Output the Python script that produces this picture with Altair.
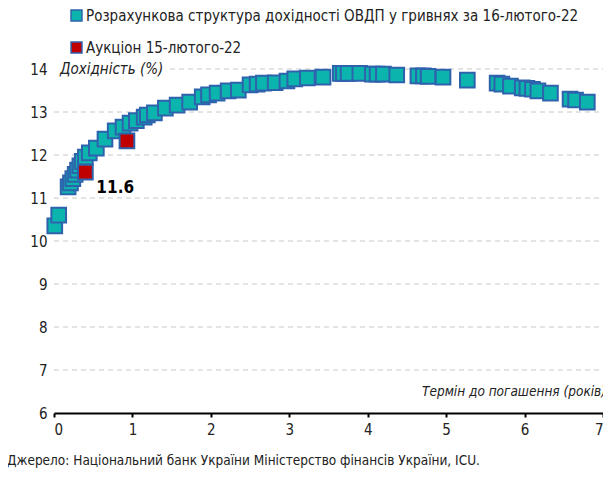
import altair as alt
import pandas as pd

FONT = "DejaVu Sans Condensed"

S1 = "Розрахункова структура дохідності ОВДП у гривнях за 16-лютого-22"
S2 = "Аукціон 15-лютого-22"

curve_x = [0.01, 0.06, 0.18, 0.21, 0.24, 0.27, 0.30, 0.33, 0.36, 0.40, 0.45, 0.54,
           0.65, 0.78, 0.88, 0.97, 1.05, 1.15, 1.19, 1.28, 1.42, 1.57, 1.73, 1.89,
           1.97, 2.08, 2.22, 2.35, 2.50, 2.59, 2.67, 2.82, 2.97, 3.07, 3.23, 3.43,
           3.65, 3.69, 3.75, 3.90, 4.06, 4.12, 4.20, 4.37, 4.64, 4.71, 4.77, 4.96,
           5.27, 5.65, 5.71, 5.82, 5.97, 6.03, 6.10, 6.17, 6.33, 6.58, 6.65, 6.80]
curve_y = [10.35, 10.60, 11.26, 11.35, 11.45, 11.55, 11.65, 11.75, 11.85, 11.95, 12.05, 12.16,
           12.37, 12.56, 12.65, 12.74, 12.80, 12.88, 12.93, 12.98, 13.09, 13.16, 13.23, 13.35,
           13.40, 13.44, 13.49, 13.51, 13.63, 13.65, 13.67, 13.68, 13.72, 13.77, 13.79, 13.81,
           13.90, 13.90, 13.90, 13.90, 13.88, 13.88, 13.88, 13.86, 13.84, 13.84, 13.83, 13.81,
           13.74, 13.67, 13.65, 13.60, 13.56, 13.55, 13.53, 13.49, 13.44, 13.30, 13.28, 13.23]

auction_x = [0.40, 0.93]
auction_y = [11.60, 12.33]

grid_values = [7, 8, 9, 10, 11, 12, 13]
top_grid_start = 1.48
x_ticks = [0, 1, 2, 3, 4, 5, 6, 7]
y_ticks = [6, 7, 8, 9, 10, 11, 12, 13, 14]

pts = pd.DataFrame({
    "x": curve_x + auction_x,
    "y": curve_y + auction_y,
    "series": [S1] * len(curve_x) + [S2] * len(auction_x),
})

xs = alt.Scale(domain=[0, 7], nice=False, zero=False)
ys = alt.Scale(domain=[6, 14], nice=False, zero=False)

grid_df = pd.DataFrame({"y": grid_values + [14], "x0": [0] * len(grid_values) + [top_grid_start], "x1": [7] * (len(grid_values) + 1)})
grid = alt.Chart(grid_df).mark_rule(color="#c8c8c8", strokeDash=[5, 4], strokeWidth=1).encode(
    x=alt.X("x0:Q", scale=xs), x2="x1:Q", y=alt.Y("y:Q", scale=ys))

points = alt.Chart(pts).mark_point(shape="square", filled=True, size=215, opacity=1,
                                   stroke="#2f62ad", strokeWidth=2).encode(
    x=alt.X("x:Q", scale=xs,
            axis=alt.Axis(values=x_ticks, title=None, grid=False, domainColor="black", domainWidth=2,
                          tickColor="black", tickWidth=2, tickSize=4, labelFontSize=15,
                          labelFont=FONT, labelColor="#222", labelPadding=5, format="d")),
    y=alt.Y("y:Q", scale=ys,
            axis=alt.Axis(values=y_ticks, title=None, grid=False, domain=False, ticks=False,
                          labelFontSize=15, labelFont=FONT, labelColor="#222", labelPadding=7, format="d")),
    color=alt.Color("series:N", scale=alt.Scale(domain=[S1, S2], range=["#0bb5ae", "#c00000"]),
                    legend=alt.Legend(title=None, orient="none", legendX=15, legendY=-61,
                                      direction="vertical", symbolType="square", symbolSize=120,
                                      symbolStrokeColor="#2f62ad", symbolStrokeWidth=1.5,
                                      labelFont=FONT, labelFontSize=15, labelColor="#222",
                                      rowPadding=15, labelOffset=2, labelLimit=600)),
)

label_df = pd.DataFrame({"x": [auction_x[0]], "y": [auction_y[0]], "t": [f"{auction_y[0]:.1f}"]})
label = alt.Chart(label_df).mark_text(align="left", baseline="middle", dx=11, dy=16, fontSize=17,
                                      fontWeight="bold", font=FONT, color="black").encode(
    x=alt.X("x:Q", scale=xs), y=alt.Y("y:Q", scale=ys), text="t:N")

ytitle_df = pd.DataFrame({"x": [0], "y": [14], "t": ["Дохідність (%)"]})
ytitle = alt.Chart(ytitle_df).mark_text(align="left", baseline="middle", dx=6, fontSize=15,
                                        fontStyle="italic", font=FONT, color="#222").encode(
    x=alt.X("x:Q", scale=xs), y=alt.Y("y:Q", scale=ys), text="t:N")

xtitle_df = pd.DataFrame({"x": [7], "y": [6], "t": ["Термін до погашення (років)"]})
xtitle = alt.Chart(xtitle_df).mark_text(align="right", baseline="middle", dx=3, dy=-21, fontSize=13.5,
                                        fontStyle="italic", font=FONT, color="#222").encode(
    x=alt.X("x:Q", scale=xs), y=alt.Y("y:Q", scale=ys), text="t:N")

chart = alt.layer(grid, points, label, ytitle, xtitle).properties(
    width=549, height=344,
    padding={"left": 46, "top": 61, "right": 0, "bottom": 55},
    autosize=alt.AutoSizeParams(type="none"),
    title=alt.TitleParams("Джерело: Національний банк України Міністерство фінансів України, ICU.",
                          orient="bottom", anchor="start", frame="group", dx=-47, offset=17,
                          fontSize=13.5, fontWeight="normal", font=FONT, color="#222"),
).configure_view(stroke=None)

chart.save("out.html", embed_options={"renderer": "svg", "actions": False})
